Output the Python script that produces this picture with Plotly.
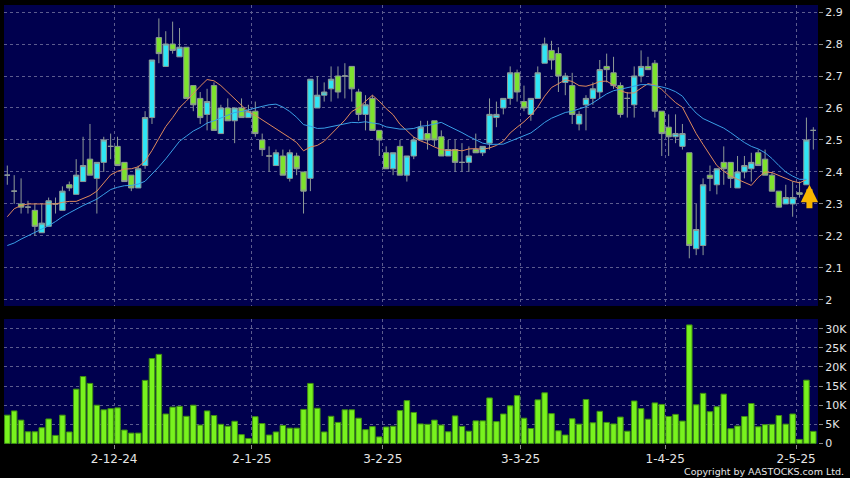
import plotly.graph_objects as go

# ---------------- data ----------------
dates = [
    "2024-11-08", "2024-11-11", "2024-11-12", "2024-11-13", "2024-11-14", "2024-11-15",
    "2024-11-18", "2024-11-19", "2024-11-20", "2024-11-21", "2024-11-22", "2024-11-25",
    "2024-11-26", "2024-11-27", "2024-11-28", "2024-11-29",
    "2024-12-02", "2024-12-03", "2024-12-04", "2024-12-05", "2024-12-06", "2024-12-09",
    "2024-12-10", "2024-12-11", "2024-12-12", "2024-12-13", "2024-12-16", "2024-12-17",
    "2024-12-18", "2024-12-19", "2024-12-20", "2024-12-23", "2024-12-24", "2024-12-27",
    "2024-12-30", "2024-12-31",
    "2025-01-02", "2025-01-03", "2025-01-06", "2025-01-07", "2025-01-08", "2025-01-09",
    "2025-01-10", "2025-01-13", "2025-01-14", "2025-01-15", "2025-01-16", "2025-01-17",
    "2025-01-20", "2025-01-21", "2025-01-22", "2025-01-23", "2025-01-24", "2025-01-27",
    "2025-01-28",
    "2025-02-03", "2025-02-04", "2025-02-05", "2025-02-06", "2025-02-07", "2025-02-10",
    "2025-02-11", "2025-02-12", "2025-02-13", "2025-02-14", "2025-02-17", "2025-02-18",
    "2025-02-19", "2025-02-20", "2025-02-21", "2025-02-24", "2025-02-25", "2025-02-26",
    "2025-02-27", "2025-02-28",
    "2025-03-03", "2025-03-04", "2025-03-05", "2025-03-06", "2025-03-07", "2025-03-10",
    "2025-03-11", "2025-03-12", "2025-03-13", "2025-03-14", "2025-03-17", "2025-03-18",
    "2025-03-19", "2025-03-20", "2025-03-21", "2025-03-24", "2025-03-25", "2025-03-26",
    "2025-03-27", "2025-03-28", "2025-03-31",
    "2025-04-01", "2025-04-02", "2025-04-03", "2025-04-07", "2025-04-08", "2025-04-09",
    "2025-04-10", "2025-04-11", "2025-04-14", "2025-04-15", "2025-04-16", "2025-04-17",
    "2025-04-22", "2025-04-23", "2025-04-24", "2025-04-25", "2025-04-28", "2025-04-29",
    "2025-04-30",
    "2025-05-02", "2025-05-06", "2025-05-07",
]

opens = [
    2.39, 2.34, 2.30, 2.29, 2.28, 2.21, 2.23, 2.30, 2.28, 2.36,
    2.33, 2.37, 2.44, 2.38, 2.43, 2.48, 2.48, 2.43, 2.39, 2.35,
    2.42, 2.57, 2.82, 2.73, 2.80, 2.76, 2.79, 2.67, 2.63, 2.58,
    2.67, 2.52, 2.60, 2.56, 2.60, 2.57, 2.59, 2.50, 2.45, 2.42,
    2.45, 2.38, 2.45, 2.40, 2.38, 2.60, 2.64, 2.66, 2.70, 2.70,
    2.73, 2.65, 2.58, 2.63, 2.53, 2.46, 2.41, 2.48, 2.39, 2.45,
    2.50, 2.52, 2.56, 2.51, 2.45, 2.47, 2.43, 2.43, 2.47, 2.46,
    2.49, 2.57, 2.60, 2.63, 2.71, 2.62, 2.58, 2.63, 2.74, 2.78,
    2.77, 2.68, 2.67, 2.55, 2.61, 2.63, 2.65, 2.73, 2.71, 2.67,
    2.63, 2.61, 2.70, 2.73, 2.74, 2.59, 2.54, 2.51, 2.48, 2.46,
    2.16, 2.17, 2.39, 2.36, 2.43, 2.43, 2.35, 2.40, 2.41, 2.46,
    2.44, 2.39, 2.34, 2.30, 2.30, 2.335, 2.36, 2.53,
]
highs = [
    2.42, 2.39, 2.38, 2.31, 2.30, 2.30, 2.32, 2.32, 2.355, 2.37,
    2.44, 2.51, 2.55, 2.43, 2.51, 2.52, 2.51, 2.43, 2.39, 2.42,
    2.59, 2.75, 2.88, 2.84, 2.87, 2.85, 2.79, 2.67, 2.65, 2.66,
    2.68, 2.61, 2.63, 2.60, 2.63, 2.61, 2.62, 2.52, 2.48, 2.47,
    2.47, 2.47, 2.46, 2.40, 2.69, 2.70, 2.68, 2.73, 2.73, 2.74,
    2.73, 2.66, 2.64, 2.64, 2.53, 2.48, 2.46, 2.50, 2.45, 2.51,
    2.56, 2.56, 2.56, 2.53, 2.50, 2.50, 2.49, 2.48, 2.52, 2.48,
    2.63, 2.62, 2.63, 2.73, 2.72, 2.67, 2.63, 2.73, 2.82, 2.81,
    2.79, 2.71, 2.71, 2.59, 2.64, 2.68, 2.75, 2.77, 2.76, 2.68,
    2.65, 2.73, 2.78, 2.76, 2.75, 2.59, 2.58, 2.58, 2.55, 2.46,
    2.30, 2.38, 2.42, 2.41, 2.48, 2.43, 2.45, 2.45, 2.46, 2.47,
    2.47, 2.40, 2.34, 2.36, 2.37, 2.37, 2.57, 2.54,
]
lows = [
    2.36, 2.30, 2.27, 2.27, 2.20, 2.21, 2.23, 2.27, 2.28, 2.34,
    2.33, 2.37, 2.39, 2.27, 2.40, 2.44, 2.42, 2.37, 2.34, 2.35,
    2.41, 2.55, 2.74, 2.73, 2.77, 2.76, 2.63, 2.59, 2.55, 2.53,
    2.53, 2.52, 2.56, 2.49, 2.57, 2.57, 2.51, 2.45, 2.40, 2.42,
    2.39, 2.37, 2.39, 2.27, 2.34, 2.60, 2.62, 2.62, 2.63, 2.63,
    2.62, 2.56, 2.53, 2.53, 2.45, 2.41, 2.39, 2.39, 2.37, 2.44,
    2.50, 2.47, 2.48, 2.45, 2.45, 2.40, 2.40, 2.40, 2.46, 2.45,
    2.47, 2.54, 2.58, 2.61, 2.62, 2.59, 2.56, 2.63, 2.74, 2.72,
    2.65, 2.64, 2.55, 2.53, 2.53, 2.61, 2.63, 2.68, 2.66, 2.57,
    2.57, 2.57, 2.68, 2.72, 2.57, 2.45, 2.45, 2.49, 2.47, 2.13,
    2.14, 2.14, 2.34, 2.33, 2.36, 2.35, 2.35, 2.38, 2.37, 2.42,
    2.39, 2.34, 2.29, 2.30, 2.26, 2.32, 2.36, 2.47,
]
closes = [
    2.39, 2.34, 2.29, 2.29, 2.23, 2.24, 2.31, 2.30, 2.34, 2.35,
    2.39, 2.42, 2.39, 2.43, 2.50, 2.48, 2.42, 2.37, 2.35, 2.41,
    2.57, 2.75, 2.77, 2.80, 2.78, 2.79, 2.63, 2.61, 2.57, 2.62,
    2.53, 2.60, 2.56, 2.60, 2.57, 2.59, 2.52, 2.47, 2.45, 2.46,
    2.39, 2.46, 2.41, 2.34, 2.69, 2.64, 2.65, 2.69, 2.65, 2.70,
    2.66, 2.58, 2.61, 2.53, 2.50, 2.41, 2.46, 2.39, 2.45, 2.50,
    2.54, 2.50, 2.50, 2.45, 2.47, 2.43, 2.43, 2.45, 2.46, 2.48,
    2.58, 2.58, 2.63, 2.71, 2.65, 2.60, 2.63, 2.71, 2.80, 2.75,
    2.70, 2.70, 2.58, 2.58, 2.63, 2.66, 2.72, 2.72, 2.67, 2.58,
    2.63, 2.70, 2.73, 2.72, 2.59, 2.52, 2.51, 2.52, 2.52, 2.17,
    2.22, 2.36, 2.38, 2.41, 2.41, 2.38, 2.40, 2.42, 2.43, 2.42,
    2.39, 2.34, 2.29, 2.32, 2.32, 2.33, 2.50, 2.53,
]
volumes = [
    7400, 8500, 6100, 3050, 3050, 4100, 6400, 2100, 7400, 3000,
    14200, 17500, 15700, 10000, 8800, 9100, 9300, 3500, 2700, 2700,
    16500, 22200, 23300, 7700, 9500, 9700, 7100, 10000, 4800, 8500,
    7300, 5000, 4500, 5800, 2300, 1300, 7000, 5200, 2200, 3000,
    4700, 4000, 4000, 8900, 15700, 9200, 3000, 7100, 5500, 8800,
    8800, 6600, 3600, 4400, 1700, 4300, 4500, 8600, 11200, 8100,
    5100, 5000, 6100, 4800, 3050, 7200, 4450, 3200, 5900, 5900,
    11900, 5700, 7700, 9850, 12500, 6600, 3900, 11400, 13250, 7800,
    3300, 2200, 6450, 5050, 11500, 5400, 8400, 5500, 5100, 6900,
    3200, 11100, 9100, 6350, 10600, 10200, 7050, 7600, 5850, 31000,
    10100, 13100, 8300, 9600, 12900, 3850, 4550, 7050, 10450, 4350,
    4900, 5000, 7300, 5050, 7700, 1050, 16550, 3150,
]
ma10 = [
    2.26, 2.285, 2.295, 2.30, 2.30, 2.30, 2.30, 2.30, 2.305, 2.308,
    2.308, 2.316, 2.326, 2.34, 2.367, 2.391, 2.402, 2.409, 2.41, 2.416,
    2.434, 2.467, 2.505, 2.542, 2.57, 2.601, 2.622, 2.646, 2.668, 2.689,
    2.685, 2.67, 2.649, 2.629, 2.608, 2.588, 2.577, 2.563, 2.551, 2.535,
    2.521, 2.507, 2.492, 2.466, 2.478, 2.483, 2.496, 2.518, 2.538, 2.562,
    2.589, 2.601, 2.621, 2.64, 2.621, 2.598, 2.579, 2.549, 2.529, 2.509,
    2.497, 2.489, 2.478, 2.47, 2.467, 2.469, 2.466, 2.472, 2.473, 2.471,
    2.475, 2.483, 2.496, 2.522, 2.54, 2.557, 2.577, 2.603, 2.637, 2.664,
    2.676, 2.688, 2.683, 2.67, 2.668, 2.674, 2.683, 2.684, 2.671, 2.654,
    2.647, 2.647, 2.662, 2.676, 2.672, 2.658, 2.637, 2.617, 2.602, 2.561,
    2.52, 2.486, 2.451, 2.42, 2.402, 2.388, 2.377, 2.367, 2.358, 2.383,
    2.40, 2.398, 2.389, 2.38, 2.371, 2.366, 2.376,
]
ma20 = [
    2.17, 2.178, 2.19, 2.20, 2.21, 2.22, 2.232, 2.245, 2.26, 2.272,
    2.284, 2.295, 2.305, 2.315, 2.33, 2.345, 2.352, 2.357, 2.358, 2.362,
    2.371, 2.392, 2.416, 2.441, 2.469, 2.496, 2.512, 2.528, 2.539, 2.553,
    2.56, 2.569, 2.577, 2.586, 2.589, 2.595, 2.60, 2.605, 2.61, 2.612,
    2.603, 2.589, 2.571, 2.548, 2.543, 2.536, 2.537, 2.541, 2.545, 2.549,
    2.555, 2.554, 2.557, 2.553, 2.55, 2.541, 2.538, 2.534, 2.534, 2.536,
    2.543, 2.545, 2.55, 2.555, 2.544, 2.534, 2.523, 2.511, 2.501, 2.49,
    2.486, 2.486, 2.487, 2.496, 2.504, 2.513, 2.522, 2.538, 2.555, 2.568,
    2.576, 2.586, 2.59, 2.596, 2.604, 2.616, 2.63, 2.644, 2.654, 2.659,
    2.662, 2.668, 2.673, 2.673, 2.67, 2.666, 2.66, 2.651, 2.637, 2.608,
    2.584, 2.567, 2.557, 2.548, 2.537, 2.523, 2.507, 2.492, 2.48, 2.472,
    2.46, 2.442, 2.42, 2.40, 2.387, 2.377, 2.377,
]

tick_dates = ["2024-12-02", "2025-01-02", "2025-02-03", "2025-03-03", "2025-04-01", "2025-05-02"]
tick_labels = ["2-12-24", "2-1-25", "3-2-25", "3-3-25", "1-4-25", "2-5-25"]
price_ticks = [2.0, 2.1, 2.2, 2.3, 2.4, 2.5, 2.6, 2.7, 2.8, 2.9]
price_labels = ["2", "2.1", "2.2", "2.3", "2.4", "2.5", "2.6", "2.7", "2.8", "2.9"]
vol_ticks = [0, 5000, 10000, 15000, 20000, 25000, 30000]
vol_labels = ["0", "5K", "10K", "15K", "20K", "25K", "30K"]
signal_date = "2025-05-06"

# ---------------- styles ----------------
BG = "#000000"
PANEL = "#00004e"
GRID = "#5c5c8e"
CYAN = "#2fe5f5"
GREEN = "#7de22e"
EDGE = "#8e9a96"
VOLG = "#78f21e"
VOLEDGE = "#3f8f12"
TXT = "#e6e6e6"
FONT = "DejaVu Sans"

idx = list(range(len(dates)))
tickpos = [dates.index(d) - 0.5 for d in tick_dates]

fig = go.Figure()
fig.add_trace(go.Candlestick(
    x=idx, open=opens, high=highs, low=lows, close=closes,
    increasing=dict(fillcolor=CYAN, line=dict(color=EDGE, width=1)),
    decreasing=dict(fillcolor=GREEN, line=dict(color=EDGE, width=1)),
    whiskerwidth=0, text=dates, name="Price", xaxis="x", yaxis="y",
))
fig.add_trace(go.Scatter(
    x=idx[:len(ma10)], y=ma10, mode="lines", line=dict(color="#e08a5c", width=1),
    name="MA10", xaxis="x", yaxis="y",
))
fig.add_trace(go.Scatter(
    x=idx[:len(ma20)], y=ma20, mode="lines", line=dict(color="#3a9fe6", width=1),
    name="MA20", xaxis="x", yaxis="y",
))
fig.add_trace(go.Bar(
    x=idx, y=volumes, marker=dict(color=VOLG, line=dict(color=VOLEDGE, width=1)),
    width=0.8, name="Volume", xaxis="x2", yaxis="y2",
))

si = dates.index(signal_date)
fig.add_annotation(
    x=si, y=opens[si], xref="x", yref="y", text="", showarrow=True,
    ax=0, ay=25, arrowhead=2, arrowsize=0.58, arrowwidth=6, arrowcolor="#f7b500",
    standoff=0, xshift=3,
)
fig.add_annotation(
    x=1.0344, y=-0.0631, xref="paper", yref="paper", text="Copyright by AASTOCKS.com Ltd.",
    showarrow=False, xanchor="right", yanchor="middle",
    font=dict(family=FONT, size=9.5, color=TXT),
)

xr = [-0.48, 117.68]
common_x = dict(
    range=xr, tickmode="array", tickvals=tickpos, showgrid=True, gridcolor=GRID,
    gridwidth=1, griddash="3px,3px", zeroline=False, showline=False,
)
fig.update_layout(
    width=850, height=478,
    margin=dict(l=4, r=32, t=5, b=34, autoexpand=False),
    paper_bgcolor=BG, plot_bgcolor=PANEL,
    showlegend=False, bargap=0.2, boxgap=0.22, boxgroupgap=0,
    hovermode=False,
    xaxis=dict(**common_x, domain=[0, 1], anchor="y", showticklabels=False, ticks="",
               rangeslider=dict(visible=False)),
    xaxis2=dict(**common_x, domain=[0, 1], anchor="y2", matches="x",
                ticktext=tick_labels, ticks="outside", ticklen=4, tickcolor="#888888",
                tickfont=dict(family=FONT, size=12, color=TXT)),
    yaxis=dict(domain=[0.3144, 1], range=[1.981, 2.922], side="right",
               tickmode="array", tickvals=price_ticks, ticktext=price_labels,
               ticks="outside", ticklen=4, tickcolor="#888888",
               tickfont=dict(family=FONT, size=11, color=TXT),
               showgrid=True, gridcolor=GRID, griddash="3px,3px", zeroline=False),
    yaxis2=dict(domain=[0, 0.2847], range=[-150, 32550], side="right",
                tickmode="array", tickvals=vol_ticks, ticktext=vol_labels,
                ticks="outside", ticklen=4, tickcolor="#888888",
                tickfont=dict(family=FONT, size=11, color=TXT),
                showgrid=True, gridcolor=GRID, griddash="3px,3px", zeroline=False),
)

fig.write_html(
    "out.html",
    config={"displayModeBar": False},
    post_script="document.body.style.margin='0';document.body.style.background='#000';",
)
